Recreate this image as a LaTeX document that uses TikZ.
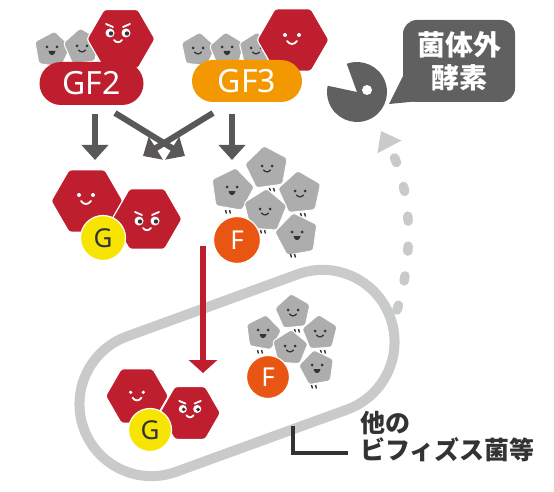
\documentclass[tikz,border=0pt]{standalone}
\usepackage{fontspec}
\setsansfont{Noto Sans}
\newfontfamily\jp{Noto Sans CJK JP}
\usetikzlibrary{shapes.geometric,shapes.misc,arrows.meta}

\definecolor{hexred}{HTML}{BE1E2D}
\definecolor{amber}{HTML}{F39800}
\definecolor{pentgray}{HTML}{ADADAD}
\definecolor{lemon}{HTML}{F7E400}
\definecolor{fruc}{HTML}{E95513}
\definecolor{ink}{HTML}{333333}
\definecolor{arrowgray}{HTML}{595757}
\definecolor{enzyme}{HTML}{606060}
\definecolor{cellgray}{HTML}{C9CACA}

\tikzset{
  happy/.pic={
    \fill[white] (-7,-3) circle (2) (7,-3) circle (2);
    \draw[white, line width=1.8pt, line cap=round] (-5,3) .. controls (-2,7) and (2,7) .. (5,3);
  },
  grumpy/.pic={
    \fill[white] (-8,0) circle (4.5) (8,0) circle (4.5);
    \fill[ink] (-7,0.5) circle (2.2) (9,0.5) circle (2.2);
    \draw[white, line width=1.8pt, line cap=round] (-12,-9) -- (-5,-6) (12,-9) -- (5,-6);
    \draw[white, line width=1.8pt, line cap=round] (-4,7) .. controls (-1.5,10) and (1.5,10) .. (4,7);
  },
  calm/.pic={
    \fill[ink] (-5,-2) circle (1.5) (5,-2) circle (1.5);
    \draw[ink, line width=1.3pt, line cap=round] (-3.5,2) .. controls (-1.5,4.5) and (1.5,4.5) .. (3.5,2);
  },
  cheer/.pic={
    \fill[ink] (-5,-3) circle (1.5) (5,-3) circle (1.5);
    \fill[ink] (-3.5,1) .. controls (-3,6.5) and (3,6.5) .. (3.5,1) -- cycle;
  },
  feet/.pic={
    \draw[ink, line width=1.4pt] (-2.5,0) -- (-1.5,3.5) (1.5,0) -- (2.5,3.5);
  }
}

\begin{document}
\begin{tikzpicture}[x=1pt,y=-1pt,
  hexa/.style={regular polygon, regular polygon sides=6, fill=hexred, draw=white,
    line width=1.2pt, inner sep=0pt, rounded corners=2.5pt, minimum size=#1},
  penta/.style={regular polygon, regular polygon sides=5, fill=pentgray, draw=white,
    line width=1pt, inner sep=0pt, rounded corners=2.5pt, minimum size=#1},
  sugar/.style={circle, inner sep=0pt, draw=white, line width=1.2pt, minimum size=#1,
    font=\sffamily\bfseries\fontsize{26}{26}\selectfont},
  pill/.style={rounded rectangle, inner sep=0pt, text=white,
    font=\sffamily\bfseries\fontsize{32}{32}\selectfont},
  flow/.style={arrowgray, line width=6pt, -{Triangle[width=26pt,length=15pt]}},
]
\useasboundingbox (0,0) rectangle (554,492);
\fill[white] (0,0) rectangle (554,492);

% --- bacterium outline ---
\node[rounded rectangle, draw=cellgray, line width=10pt, minimum width=326pt,
  minimum height=144pt, inner sep=0pt, rotate=20] (cell) at (237,373) {};

% --- recycling path back to the enzyme ---
\coordinate (back0) at (397,310);
\coordinate (back1) at (381,131);
\draw[cellgray, line width=9.5pt, line cap=round, dash pattern=on 5pt off 25pt,
  -{Triangle[width=26pt,length=18pt]}]
  (back0) .. controls (412,262) and (415,195) .. (back1);

% --- GF2 ---
\node[penta=38pt, shape border rotate=-8] (p21) at (52,50) {};
\pic at (52,50) {cheer};
\node[penta=38pt, shape border rotate=6] (p22) at (82,47) {};
\pic at (82,48) {calm};
\node[hexa=68pt] (h21) at (121,39) {};
\pic at (118,33) {grumpy};
\node[pill, fill=hexred, minimum width=104pt, minimum height=43pt] (gf2) at (91.5,83.5) {GF2};

% --- GF3 ---
\node[penta=36pt, shape border rotate=-6] (p31) at (198,50) {};
\pic at (198,50) {calm};
\node[penta=36pt, shape border rotate=5] (p32) at (227,50) {};
\pic at (227,50) {cheer};
\node[penta=36pt, shape border rotate=-4] (p33) at (256,50) {};
\pic at (256,50) {calm};
\node[hexa=72pt] (h31) at (293,40) {};
\pic at (292,38) {happy};
\node[pill, fill=amber, minimum width=110pt, minimum height=42pt] (gf3) at (247,81) {GF3};

% --- extracellular enzyme ---
\fill[enzyme] (357,92) -- ++(-110:30) arc[start angle=-110, end angle=192, radius=30] -- cycle;
\fill[white] (367,90) circle (5);
\fill[enzyme] (406,70) -- (389,104) -- (430,100) -- cycle;
\node[fill=enzyme, rounded corners=14pt, minimum width=112pt, minimum height=82pt,
  text=white, align=center, inner sep=0pt,
  font=\jp\bfseries\fontsize{28}{33}\selectfont] (bubble) at (459,61) {菌体外\\酵素};

% --- breakdown arrows ---
\coordinate (s1) at (95,114);   \coordinate (e1) at (95,160);
\coordinate (s2) at (232,114);  \coordinate (e2) at (232,160);
\coordinate (s3) at (115,113);  \coordinate (e3) at (185,156);
\coordinate (s4) at (213,113);  \coordinate (e4) at (143,156);
\draw[flow] (s1) -- (e1);
\draw[flow] (s2) -- (e2);
\draw[flow] (s3) -- (e3);
\draw[flow] (s4) -- (e4);

% --- released glucose ---
\node[hexa=72pt] (hb1) at (87,201) {};
\pic at (86,198) {happy};
\node[hexa=70pt] (hb2) at (147,219) {};
\pic at (147,221) {grumpy};
\node[sugar=45pt, fill=lemon, text=ink] (g1) at (103,238) {G};

% --- released fructose ---
\node[penta=45pt, shape border rotate=8] (pb1) at (267,168) {};
\pic at (267,168) {calm};  \pic at (272,188) {feet};
\node[penta=45pt, shape border rotate=-10] (pb2) at (232,190) {};
\pic at (232,190) {cheer}; \pic at (228,210) {feet};
\node[penta=45pt, shape border rotate=6] (pb3) at (300,193) {};
\pic at (300,193) {calm};  \pic at (303,213) {feet};
\node[penta=45pt, shape border rotate=-4] (pb4) at (265,211) {};
\pic at (265,211) {calm};  \pic at (263,230) {feet};
\node[penta=45pt, shape border rotate=10] (pb5) at (297,235) {};
\pic at (297,235) {cheer}; \pic at (293,254) {feet};
\node[sugar=47pt, fill=fruc, text=white] (f1) at (237,240) {F};

% --- uptake into the cell ---
\coordinate (r0) at (203,246);
\coordinate (r1) at (203,373);
\draw[hexred, line width=6pt, -{Triangle[width=28pt,length=13pt]}] (r0) -- (r1);

% --- inside the cell ---
\node[penta=37pt, shape border rotate=6] (pc1) at (293,312) {};
\pic at (293,312) {calm};  \pic at (297,329) {feet};
\node[penta=37pt, shape border rotate=-10] (pc2) at (263,333) {};
\pic at (263,333) {cheer}; \pic at (260,350) {feet};
\node[penta=37pt, shape border rotate=4] (pc3) at (320,333) {};
\pic at (320,333) {calm};  \pic at (323,350) {feet};
\node[penta=37pt, shape border rotate=-4] (pc4) at (290,348) {};
\pic at (290,348) {calm};
\node[penta=37pt, shape border rotate=10] (pc5) at (317,368) {};
\pic at (317,368) {cheer}; \pic at (314,385) {feet};
\node[sugar=43pt, fill=fruc, text=white] (f2) at (268,377) {F};

\node[hexa=63pt] (hc1) at (137,396) {};
\pic[scale=0.9] at (137,395) {happy};
\node[hexa=61pt] (hc2) at (190,413) {};
\pic[scale=0.9] at (190,409) {grumpy};
\node[sugar=43pt, fill=lemon, text=ink] (g2) at (150,430) {G};

% --- label ---
\node[anchor=north west, align=left, inner sep=0pt, text=ink,
  font=\jp\bfseries\fontsize{25}{27}\selectfont] (label) at (360,411) {他の\\ビフィズス菌等};
\coordinate (l0) at (293,426);
\coordinate (l1) at (348,453);
\draw[ink, line width=3.5pt] (l0) |- (l1);
\end{tikzpicture}
\end{document}
